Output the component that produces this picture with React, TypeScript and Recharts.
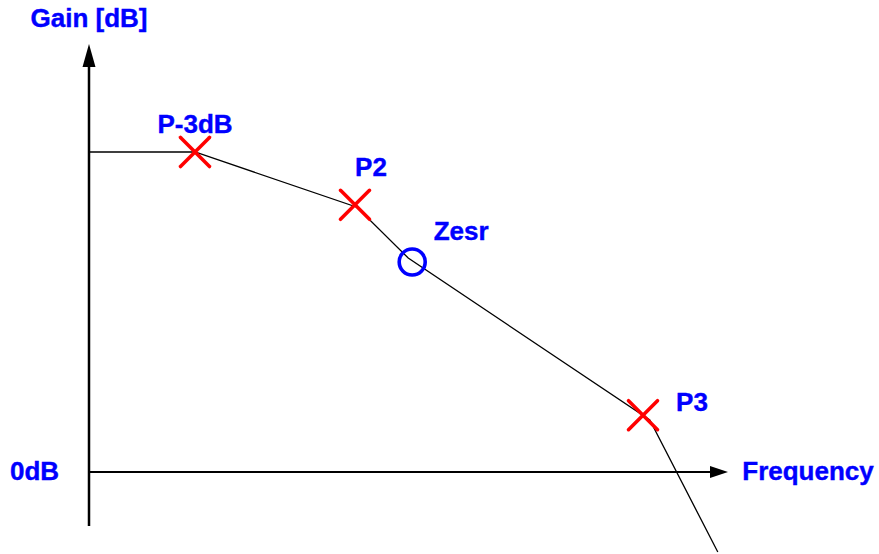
import React from "react";
import {
  ComposedChart,
  Line,
  Scatter,
  XAxis,
  YAxis,
  ReferenceLine,
  ReferenceDot,
} from "recharts";

// Asymptotic gain curve (x: log-frequency units, y: gain units)
const curve = [
  { x: 0, y: 40 },
  { x: 13.25, y: 40 },
  { x: 33.5, y: 33.1 },
  { x: 39.9, y: 26.75 },
  { x: 70.1, y: 6.5 },
  { x: 78.6, y: -10 },
];

const poles = [
  { name: "P-3dB", x: 13.25, y: 40 },
  { name: "P2", x: 33.25, y: 33.4 },
  { name: "P3", x: 69.25, y: 7.1 },
];

const zeros = [{ name: "Zesr", x: 40.4, y: 26.25 }];

const yAxisLabel = "Gain [dB]";
const xAxisLabel = "Frequency";
const zeroLabel = "0dB";

const xDomain: [number, number] = [-10, 98.75];
const yDomain: [number, number] = [-10.25, 59];
const yAxisStart = -6.75;
const yAxisTip = 53.5;
const xAxisTip = 79.875;

const BLUE = "#0000FF";
const RED = "#FF0000";
const FONT = "'Liberation Sans', Arial, sans-serif";
const FS = 26;

const labelOffsets: Record<string, { dx: number; dy: number }> = {
  "P-3dB": { dx: 0, dy: -19 },
  P2: { dx: 16, dy: -29 },
  Zesr: { dx: 49, dy: -22 },
  P3: { dx: 49, dy: -4 },
};

const Label = ({ x, y, text }: { x: number; y: number; text: string }) => (
  <text
    x={x}
    y={y}
    textAnchor="middle"
    fill={BLUE}
    stroke={BLUE}
    strokeWidth={0.4}
    fontFamily={FONT}
    fontWeight="bold"
    fontSize={FS}
  >
    {text}
  </text>
);

const PoleShape = (props: any) => {
  const { cx, cy, payload } = props;
  const s = 14.5;
  const off = labelOffsets[payload.name];
  return (
    <g>
      <line x1={cx - s} y1={cy - s} x2={cx + s} y2={cy + s} stroke={RED} strokeWidth={3.6} strokeLinecap="round" />
      <line x1={cx - s} y1={cy + s} x2={cx + s} y2={cy - s} stroke={RED} strokeWidth={3.6} strokeLinecap="round" />
      <Label x={cx + off.dx} y={cy + off.dy} text={payload.name} />
    </g>
  );
};

const ZeroShape = (props: any) => {
  const { cx, cy, payload } = props;
  const off = labelOffsets[payload.name];
  return (
    <g>
      <circle cx={cx} cy={cy} r={13} fill="none" stroke={BLUE} strokeWidth={3.6} />
      <Label x={cx + off.dx} y={cy + off.dy} text={payload.name} />
    </g>
  );
};

const UpArrow = (props: any) => {
  const { cx, cy } = props;
  return (
    <g>
      <polygon points={`${cx},${cy} ${cx - 6.5},${cy + 23} ${cx + 6.5},${cy + 23}`} fill="#000" />
      <Label x={cx} y={cy - 17} text={yAxisLabel} />
    </g>
  );
};

const RightArrow = (props: any) => {
  const { cx, cy } = props;
  return (
    <g>
      <polygon points={`${cx},${cy} ${cx - 18},${cy - 6} ${cx - 18},${cy + 6}`} fill="#000" />
      <Label x={cx + 80} y={cy + 8} text={xAxisLabel} />
    </g>
  );
};

const OriginLabel = (props: any) => {
  const { cx, cy } = props;
  return <Label x={cx - 54.5} y={cy + 8} text={zeroLabel} />;
};

export default function App() {
  return (
    <div style={{ position: "absolute", left: 0, top: 0, width: 879, height: 554, background: "#fff" }}>
      <ComposedChart width={879} height={554} margin={{ top: 0, right: 0, bottom: 0, left: 9 }}>
        <XAxis type="number" dataKey="x" domain={xDomain} allowDataOverflow hide />
        <YAxis type="number" dataKey="y" domain={yDomain} allowDataOverflow hide />
        <ReferenceLine
          segment={[{ x: 0, y: yAxisStart }, { x: 0, y: yAxisTip - 2.5 }]}
          stroke="#000"
          strokeWidth={2.5}
        />
        <ReferenceLine
          segment={[{ x: 0, y: 0 }, { x: xAxisTip - 2, y: 0 }]}
          stroke="#000"
          strokeWidth={2}
        />
        <ReferenceDot x={0} y={yAxisTip} r={0} shape={UpArrow} />
        <ReferenceDot x={xAxisTip} y={0} r={0} shape={RightArrow} />
        <ReferenceDot x={0} y={0} r={0} shape={OriginLabel} />
        <Line
          data={curve}
          dataKey="y"
          type="linear"
          stroke="#000"
          strokeWidth={1.3}
          dot={false}
          activeDot={false}
          isAnimationActive={false}
        />
        <Scatter data={poles} dataKey="y" shape={PoleShape} isAnimationActive={false} />
        <Scatter data={zeros} dataKey="y" shape={ZeroShape} isAnimationActive={false} />
      </ComposedChart>
    </div>
  );
}
